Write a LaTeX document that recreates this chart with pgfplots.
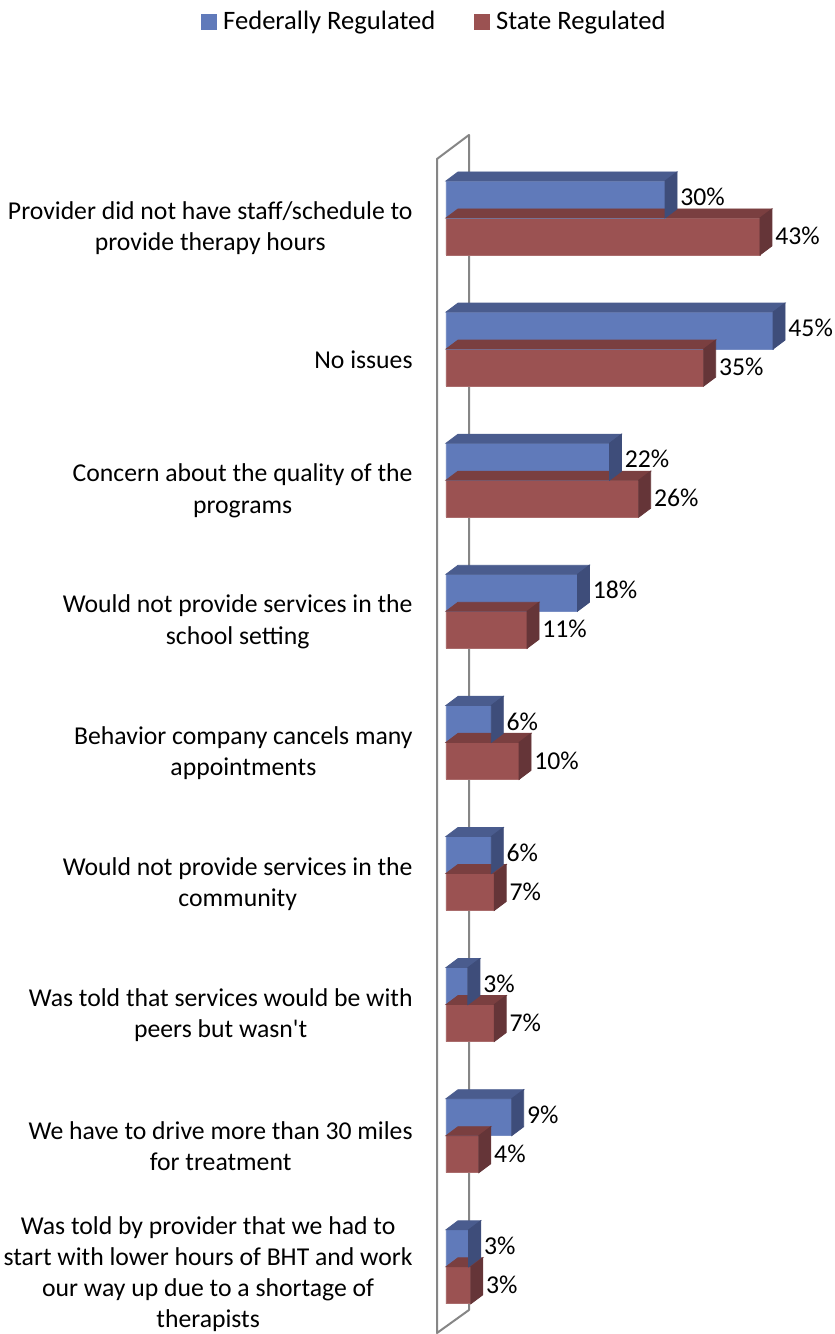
\documentclass[border=0pt]{standalone}
\usepackage{pgfplots}
\pgfplotsset{compat=1.18}
\usepackage{pgfplotstable}
\usepackage{fontspec}
\setmainfont{Carlito}
\definecolor{fedfront}{RGB}{96,122,186}
\definecolor{fedtop}{RGB}{74,92,142}
\definecolor{fedside}{RGB}{62,77,122}
\definecolor{stfront}{RGB}{155,82,82}
\definecolor{sttop}{RGB}{122,63,64}
\definecolor{stside}{RGB}{101,53,56}
\definecolor{wallgray}{RGB}{134,134,134}

% y = 8 is the top category
\pgfplotstableread{
y v lab
8 30.0 30
7 44.8 45
6 22.4 22
5 18.0 18
4 6.2 6
3 6.2 6
2 3.0 3
1 9.0 9
0 3.1 3
}\fed
\pgfplotstableread{
y v lab
8 43.0 43
7 35.3 35
6 26.4 26
5 11.1 11
4 10.0 10
3 6.6 7
2 6.6 7
1 4.5 4
0 3.4 3
}\st

\begin{document}
\begin{tikzpicture}
\draw[wallgray, line width=1pt, line join=round]
  (218.5pt,0.5pt) -- (218.5pt,587.5pt) -- (234.5pt,599.5pt) -- (234.5pt,12pt) -- cycle;
\begin{axis}[
  at={(223pt,0.825pt)}, anchor=south west,
  x=3.65pt, y=65.55pt,
  xmin=0, xmax=50, ymin=-0.5, ymax=8.5,
  axis line style={draw=none},
  xtick=\empty, ytick={1,...,8},
  major tick length=0pt,
  clip=false,
  yticklabels={
    {We have to drive more than 30 miles\\for treatment},
    {Was told that services would be with\\peers but wasn\textquotesingle t},
    {Would not provide services in the\\community},
    {Behavior company cancels many\\appointments},
    {Would not provide services in the\\school setting},
    {Concern about the quality of the\\programs},
    {No issues},
    {Provider did not have staff/schedule to\\provide therapy hours}
  },
  extra y ticks={0},
  extra y tick labels={{Was told by provider that we had to\\start with lower hours of BHT and work\\our way up due to a shortage of\\therapists}},
  extra y tick style={yticklabel style={yshift=1.5pt}},
  yticklabel style={font=\fontsize{12.85}{15.6}\selectfont, align=center, anchor=east,
    inner sep=0pt, xshift=-16.5pt, yshift=-5.25pt},
  legend style={at={(axis description cs:-0.6712,1.1110)}, anchor=west, draw=none, fill=none,
    inner sep=0pt, legend columns=2, font=\fontsize{13.3}{15}\selectfont,
    nodes={inner sep=0pt},
    /tikz/every odd column/.style={column sep=3pt},
    /tikz/every even column/.style={column sep=19.5pt}},
]
\addlegendimage{legend image code/.code={\fill[fedfront] (0pt,-3.75pt) rectangle (7.5pt,3.75pt);}}
\addlegendentry{Federally Regulated}
\addlegendimage{legend image code/.code={\fill[stfront] (0pt,-3.75pt) rectangle (7.5pt,3.75pt);}}
\addlegendentry{State Regulated}

% State regulated: 3D faces (drawn at each data point)
\addplot[forget plot, only marks, scatter, mark=*, mark size=0pt,
  mark options={draw=none, fill=none},
  point meta=explicit symbolic,
  scatter/@pre marker code/.code={%
    \pgfmathsetmacro\xa{-\pgfplotspointmeta*3.65}%
    \pgfmathsetmacro\xb{6-\pgfplotspointmeta*3.65}%
    \fill[sttop] (\xa pt,0pt) -- (0pt,0pt) -- (6pt,4.5pt) -- (\xb pt,4.5pt) -- cycle;
    \fill[stside] (0pt,0pt) -- (6pt,4.5pt) -- (6pt,-14pt) -- (0pt,-18.5pt) -- cycle;
  },
  scatter/@post marker code/.code={}]
  table[x=v, y=y, meta=v] {\st};
% State regulated: front faces
\addplot[forget plot, xbar, bar width=18.5pt, bar shift=-9.25pt, fill=stfront,
  draw=stfront!85!white, line width=0.4pt,
  point meta=explicit symbolic, nodes near coords={\pgfplotspointmeta\%},
  every node near coord/.append style={font=\fontsize{12.85}{15}\selectfont, text=black,
    inner sep=0pt, anchor=west, xshift=7.5pt, yshift=-9pt}]
  table[x=v, y=y, meta=lab] {\st};

% Federally regulated: 3D faces
\addplot[forget plot, only marks, scatter, mark=*, mark size=0pt,
  mark options={draw=none, fill=none},
  point meta=explicit symbolic,
  scatter/@pre marker code/.code={%
    \pgfmathsetmacro\xa{-\pgfplotspointmeta*3.65}%
    \pgfmathsetmacro\xb{6-\pgfplotspointmeta*3.65}%
    \fill[fedtop] (\xa pt,18.5pt) -- (0pt,18.5pt) -- (6pt,23pt) -- (\xb pt,23pt) -- cycle;
    \fill[fedside] (0pt,18.5pt) -- (6pt,23pt) -- (6pt,4.5pt) -- (0pt,0pt) -- cycle;
  },
  scatter/@post marker code/.code={}]
  table[x=v, y=y, meta=v] {\fed};
% Federally regulated: front faces
\addplot[forget plot, xbar, bar width=18.5pt, bar shift=9.25pt, fill=fedfront,
  draw=fedfront!85!white, line width=0.4pt,
  point meta=explicit symbolic, nodes near coords={\pgfplotspointmeta\%},
  every node near coord/.append style={font=\fontsize{12.85}{15}\selectfont, text=black,
    inner sep=0pt, anchor=west, xshift=7.5pt, yshift=10.5pt}]
  table[x=v, y=y, meta=lab] {\fed};
\end{axis}
\pgfresetboundingbox
\useasboundingbox (0pt,0pt) rectangle (417.5pt,667pt);
\end{tikzpicture}
\end{document}
